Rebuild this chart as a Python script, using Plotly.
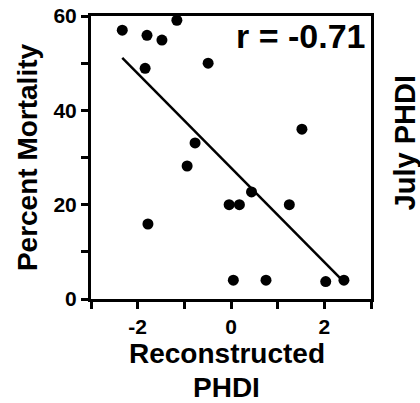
import plotly.graph_objects as go

# Reconstructed PHDI (x) vs Percent Mortality (y)
phdi = [-2.33, -1.80, -1.48, -1.16, -1.84, -0.49, -0.77, -0.94, 1.52, -1.78,
        -0.04, 0.18, 0.44, 1.25, 0.05, 0.75, 2.03, 2.42]
mortality = [57.0, 55.9, 54.9, 59.1, 48.9, 50.0, 33.1, 28.2, 36.0, 15.9,
             20.0, 20.0, 22.7, 20.0, 4.0, 4.0, 3.7, 4.0]
# regression line as drawn in the figure
fit_slope = -10.0
fit_intercept = 27.8
fit_x = [-2.33, 2.35]
x_ticks = [-3, -2, -1, 0, 1, 2, 3]
x_ticklabels = ["", "-2", "", "0", "", "2", ""]
y_ticks = [0, 10, 20, 30, 40, 50, 60]
y_ticklabels = ["0", "", "20", "", "40", "", "60"]
r_label = "r = -0.71"
x_title_lines = ["Reconstructed", "PHDI"]

fit_y = [fit_slope * v + fit_intercept for v in fit_x]

FONT = "Liberation Sans, Arial, sans-serif"

fig = go.Figure()
fig.add_trace(go.Scatter(x=fit_x, y=fit_y, mode="lines",
                         line=dict(color="black", width=2.5), hoverinfo="skip"))
fig.add_trace(go.Scatter(x=phdi, y=mortality, mode="markers",
                         marker=dict(color="black", size=11)))

L, R, T, B = 91, 48.5, 16, 104
W, H = 420, 403
pw, ph = W - L - R, H - T - B

def px(x):
    return (x - L) / pw

def py(y):
    return (H - B - y) / ph

axis_common = dict(showgrid=False, zeroline=False, showline=True, linecolor="black",
                   linewidth=3, mirror=True, ticks="outside", ticklen=7, tickwidth=3,
                   tickcolor="black", automargin=False,
                   tickfont=dict(family=FONT, size=21, color="black", weight="bold"))

title_font = dict(family=FONT, size=28, color="black", weight="bold")

fig.update_layout(
    width=W, height=H, margin=dict(l=L, r=R, t=T, b=B, autoexpand=False),
    paper_bgcolor="white", plot_bgcolor="white", showlegend=False,
    xaxis=dict(range=[-3, 3], tickvals=x_ticks, ticktext=x_ticklabels, **axis_common),
    yaxis=dict(range=[0, 60], tickvals=y_ticks, ticktext=y_ticklabels, **axis_common),
    annotations=[
        dict(text=r_label, xref="paper", yref="paper", x=px(300.5), y=py(36),
             showarrow=False, xanchor="center", yanchor="middle",
             font=dict(family=FONT, size=34, color="black", weight="bold")),
        dict(text="Percent Mortality", xref="paper", yref="paper", x=px(27), y=py(157),
             showarrow=False, xanchor="center", yanchor="middle", textangle=-90,
             font=title_font),
        dict(text=x_title_lines[0], xref="paper", yref="paper", x=px(227), y=py(353),
             showarrow=False, xanchor="center", yanchor="middle", font=title_font),
        dict(text=x_title_lines[1], xref="paper", yref="paper", x=px(227), y=py(387),
             showarrow=False, xanchor="center", yanchor="middle", font=title_font),
        dict(text="July PHDI", xref="paper", yref="paper", x=px(406), y=py(143),
             showarrow=False, xanchor="center", yanchor="middle", textangle=-90,
             font=dict(family=FONT, size=29, color="black", weight="bold")),
    ],
)

fig.write_html("out.html", config={"displayModeBar": False},
               post_script="document.body.style.margin='0px';document.body.style.overflow='hidden';")
